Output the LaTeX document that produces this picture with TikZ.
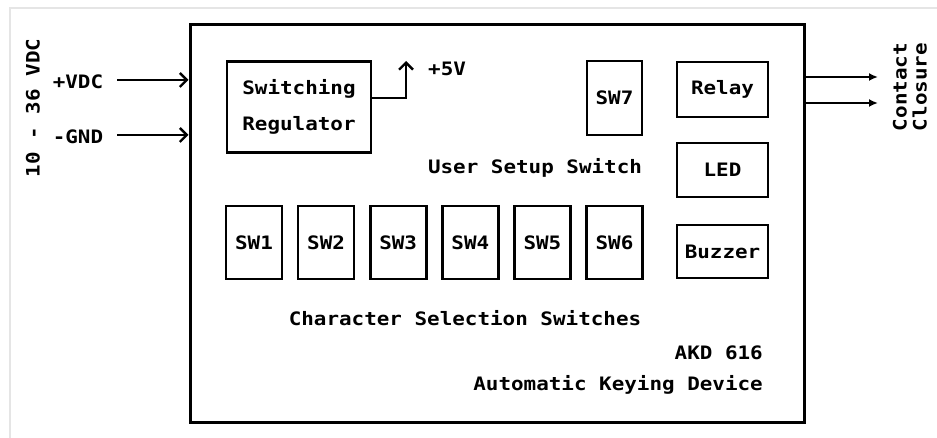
\documentclass[tikz,border=0pt]{standalone}
\usepackage{fontspec}
\newfontfamily\keyfont[FakeStretch=1.13]{DejaVu Sans Mono}
\usetikzlibrary{arrows.meta}

\tikzset{
  blk/.style={draw, line width=2.6pt, inner sep=0pt, font=\keyfont\bfseries\fontsize{18.5}{36}\selectfont},
  lbl/.style={inner sep=0pt, font=\keyfont\bfseries\fontsize{18.5}{36}\selectfont},
  wire/.style={line width=2.6pt},
  inarr/.style={wire, -{Straight Barb[length=7pt,width=14pt,line width=2.4pt]}},
  outarr/.style={wire, -{Latex[length=9pt,width=8pt]}}
}

\begin{document}
\begin{tikzpicture}[x=1pt,y=-1pt]
    \useasboundingbox (0,0) rectangle (937,438);
    \draw[gray!20, line width=2pt] (10,438) -- (10,8) -- (937,8);

    % device outline
    \node[draw, line width=3pt, minimum width=614pt, minimum height=397pt] (dev) at (497,223.5) {};

    \node[blk, minimum width=144pt, minimum height=91pt, align=center] (reg) at (299,107) {Switching\\Regulator};
    \node[blk, minimum width=55pt, minimum height=74pt] (sw7) at (614.5,98) {SW7};
    \node[blk, minimum width=91pt, minimum height=55pt] (relay) at (722.5,89.5) {Relay};
    \node[blk, minimum width=91pt, minimum height=54pt] (led) at (722.5,170) {LED};
    \node[blk, minimum width=91pt, minimum height=53pt] (buzz) at (722.5,251.5) {Buzzer};
    \foreach \i in {1,...,6}
      \node[blk, minimum width=56pt, minimum height=73pt] (sw\i) at ({254+72.1*(\i-1)},242.5) {SW\i};

    \node[lbl] (setup) at (535,168) {User Setup Switch};
    \node[lbl] (chars) at (465,318) {Character Selection Switches};
    \node[lbl, anchor=east] (akd) at (763,353) {AKD 616};
    \node[lbl, anchor=east] (name) at (763,385) {Automatic Keying Device};

    % power in
    \node[lbl] (vdc) at (78,82) {+VDC};
    \node[lbl] (gnd) at (78,137) {-GND};
    \node[lbl, rotate=90] (range) at (33,108) {10 - 36 VDC};
    \coordinate (vin) at (117,80);
    \coordinate (gin) at (117,135);
    \draw[inarr] (vin) -- (vin -| dev.west);
    \draw[inarr] (gin) -- (gin -| dev.west);

    % regulator output
    \coordinate (v5) at (406,61);
    \draw[inarr] ([yshift=9pt]reg.east) -| (v5);
    \node[lbl, anchor=west] (plus5) at (428,69) {+5V};

    % contact closure out
    \coordinate (c1) at (878,77);
    \coordinate (c2) at (878,103);
    \draw[outarr] (c1 -| dev.east) -- (c1);
    \draw[outarr] (c2 -| dev.east) -- (c2);
    \node[lbl, rotate=90, align=center, font=\keyfont\bfseries\fontsize{18.5}{20}\selectfont] (contact) at (910,87) {Contact\\Closure};
\end{tikzpicture}
\end{document}
